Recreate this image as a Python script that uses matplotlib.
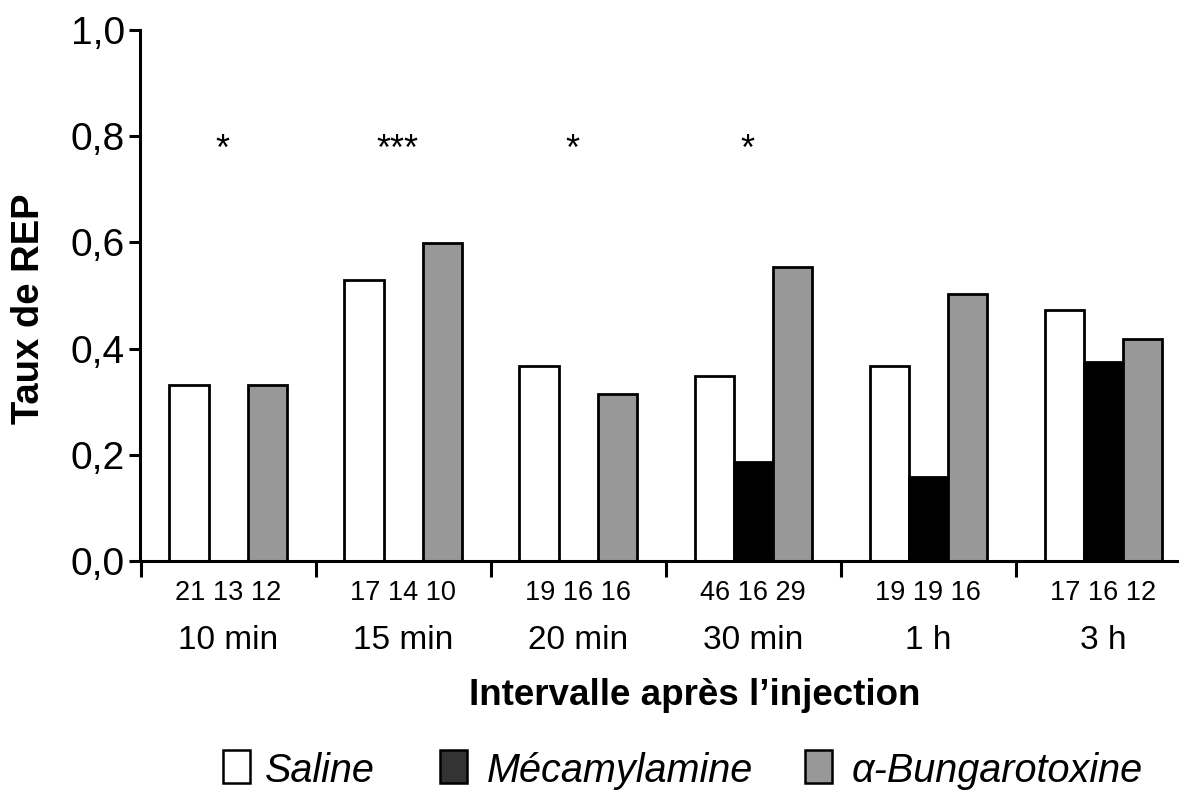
import numpy as np
import matplotlib
matplotlib.use("Agg")
import matplotlib.pyplot as plt
from matplotlib.patches import Rectangle
from matplotlib.transforms import blended_transform_factory

plt.rcParams['font.family'] = ['Liberation Sans', 'DejaVu Sans']

# ---- data ----
intervals = ["10 min", "15 min", "20 min", "30 min", "1 h", "3 h"]
saline = [0.331, 0.530, 0.367, 0.348, 0.367, 0.472]
mecamylamine = [0.0, 0.0, 0.0, 0.187, 0.158, 0.375]
bungarotoxine = [0.331, 0.599, 0.314, 0.553, 0.503, 0.419]
n_saline = [21, 17, 19, 46, 19, 17]
n_meca = [13, 14, 16, 16, 19, 16]
n_bunga = [12, 10, 16, 29, 16, 12]
signif = ["*", "***", "*", "*", "", ""]
series_names = ["Saline", "Mécamylamine", "α-Bungarotoxine"]
yticks = [0.0, 0.2, 0.4, 0.6, 0.8, 1.0]
ytick_labels = ["0,0", "0,2", "0,4", "0,6", "0,8", "1,0"]

W, H = 1179, 790
fig = plt.figure(figsize=(W / 100, H / 100), dpi=100)
ax = fig.add_axes([140 / W, 1 - 561 / H, (W - 140) / W, (561 - 30) / H])

x = np.arange(len(intervals))
bw = 0.223
lw = 2.0
ax.bar(x - bw, saline, bw, color="white", edgecolor="black", linewidth=lw, zorder=2)
ax.bar(x, mecamylamine, bw, color="black", edgecolor="black", linewidth=lw, zorder=2)
ax.bar(x + bw, bungarotoxine, bw, color="#989898", edgecolor="black", linewidth=lw, zorder=2)

ax.set_xlim(-0.503, 5.434)
ax.set_ylim(0, 1.0)
for s in ["top", "right"]:
    ax.spines[s].set_visible(False)
for s in ["left", "bottom"]:
    ax.spines[s].set_linewidth(2.2)
    ax.spines[s].set_zorder(3)

ax.set_yticks(yticks)
ax.set_yticklabels(ytick_labels, fontsize=28)
ax.tick_params(axis="y", length=8, width=2.2, pad=3, direction="out")
ax.set_xticks(np.arange(-0.5, len(intervals) - 1, 1.0))
ax.set_xticklabels([])
ax.tick_params(axis="x", length=11.5, width=2.2, direction="out")

tr = blended_transform_factory(ax.transData, fig.transFigure)
for i in range(len(intervals)):
    ax.text(x[i], 1 - 600 / H, f"{n_saline[i]} {n_meca[i]} {n_bunga[i]}",
            transform=tr, ha="center", va="baseline", fontsize=19.5)
    ax.text(x[i], 1 - 649 / H, intervals[i], transform=tr,
            ha="center", va="baseline", fontsize=24)
    if signif[i]:
        ax.text(x[i] - 0.03, 0.755, signif[i], ha="center", va="baseline", fontsize=26)

fig.text(695 / W, 1 - 705 / H, "Intervalle après l’injection", ha="center",
         va="baseline", fontsize=26.5, fontweight="bold")
fig.text(29 / W, 1 - 309 / H, "Taux de REP", rotation=90, ha="center",
         va="center", fontsize=27.5, fontweight="bold")

# legend
leg_fc = ["white", "#333333", "#989898"]
leg_x = [223, 440, 805]
txt_x = [265, 487, 852]
for fc, hx, tx, name in zip(leg_fc, leg_x, txt_x, series_names):
    fig.add_artist(Rectangle((hx / W, 1 - 783 / H), 27 / W, 33 / H,
                             transform=fig.transFigure, facecolor=fc,
                             edgecolor="black", linewidth=1.8))
    fig.text(tx / W, 1 - 782 / H, name, ha="left", va="baseline",
             fontsize=28.5, fontstyle="italic")

fig.savefig("out.png", dpi=100)
